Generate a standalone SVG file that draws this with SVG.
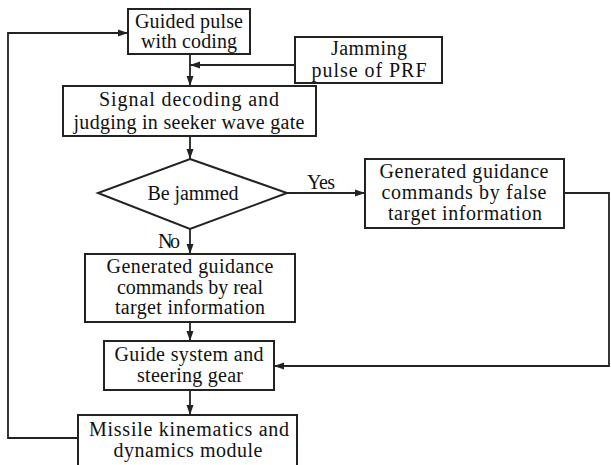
<svg xmlns="http://www.w3.org/2000/svg" width="611" height="465" viewBox="0 0 611 465">
<style>
.box{fill:#fff;stroke:#222;stroke-width:2}
.t{font-family:"Liberation Serif","Times New Roman",serif;font-size:20px;fill:#111;text-anchor:middle}
.c{fill:none;stroke:#222;stroke-width:1.8}
</style>
<defs>
<marker id="ah" viewBox="0 0 10 10" refX="10" refY="5" markerWidth="10" markerHeight="10" markerUnits="userSpaceOnUse" orient="auto">
<path d="M0,1.5 L10,5 L0,8.5 z" fill="#222"/>
</marker>
</defs>
<rect width="611" height="465" fill="#fff"/>
<g id="connectors">
<polyline class="c" points="78,438 8,438 8,33 128,33" marker-end="url(#ah)"/>
<line class="c" x1="190" y1="54" x2="190" y2="86" marker-end="url(#ah)"/>
<line class="c" x1="295" y1="65" x2="190" y2="65" marker-end="url(#ah)"/>
<line class="c" x1="190" y1="136" x2="190" y2="159" marker-end="url(#ah)"/>
<line class="c" x1="287" y1="193" x2="365" y2="193" marker-end="url(#ah)"/>
<line class="c" x1="190" y1="229" x2="190" y2="254" marker-end="url(#ah)"/>
<line class="c" x1="190" y1="322" x2="190" y2="341" marker-end="url(#ah)"/>
<polyline class="c" points="564,193 609,193 609,366 274,366" marker-end="url(#ah)"/>
<line class="c" x1="190" y1="390" x2="190" y2="415" marker-end="url(#ah)"/>
<text class="t" x="321" y="189" textLength="28" lengthAdjust="spacing">Yes</text>
<text class="t" x="169" y="248" textLength="22" lengthAdjust="spacing">No</text>
</g>
<g id="guided">
<rect class="box" x="128" y="9" width="122" height="45"/>
<text class="t" x="189" y="28" textLength="108" lengthAdjust="spacing">Guided pulse</text>
<text class="t" x="189" y="48" textLength="96" lengthAdjust="spacing">with coding</text>
</g>
<g id="jamming">
<rect class="box" x="295" y="37" width="147" height="46"/>
<text class="t" x="369" y="55" textLength="76" lengthAdjust="spacing">Jamming</text>
<text class="t" x="369" y="77" textLength="115" lengthAdjust="spacing">pulse of PRF</text>
</g>
<g id="decoding">
<rect class="box" x="63" y="86" width="253" height="50"/>
<text class="t" x="189" y="106" textLength="180" lengthAdjust="spacing">Signal decoding and</text>
<text class="t" x="189" y="129" textLength="231" lengthAdjust="spacing">judging in seeker wave gate</text>
</g>
<g id="jammed">
<polygon class="box" points="190,159 287,193 190,229 98,193"/>
<text class="t" x="193" y="200" textLength="91" lengthAdjust="spacing">Be jammed</text>
</g>
<g id="false">
<rect class="box" x="365" y="159" width="199" height="69"/>
<text class="t" x="464" y="178" textLength="169" lengthAdjust="spacing">Generated guidance</text>
<text class="t" x="464" y="199" textLength="165" lengthAdjust="spacing">commands by false</text>
<text class="t" x="465" y="220" textLength="154" lengthAdjust="spacing">target information</text>
</g>
<g id="real">
<rect class="box" x="85" y="254" width="210" height="68"/>
<text class="t" x="190" y="273" textLength="167" lengthAdjust="spacing">Generated guidance</text>
<text class="t" x="190" y="294" textLength="146" lengthAdjust="spacing">commands by real</text>
<text class="t" x="190" y="314" textLength="150" lengthAdjust="spacing">target information</text>
</g>
<g id="guide">
<rect class="box" x="104" y="341" width="170" height="49"/>
<text class="t" x="189" y="361" textLength="149" lengthAdjust="spacing">Guide system and</text>
<text class="t" x="190" y="382" textLength="106" lengthAdjust="spacing">steering gear</text>
</g>
<g id="missile">
<rect class="box" x="78" y="415" width="219" height="60"/>
<text class="t" x="189" y="436" textLength="200" lengthAdjust="spacing">Missile kinematics and</text>
<text class="t" x="188" y="457" textLength="149" lengthAdjust="spacing">dynamics module</text>
</g>
</svg>
